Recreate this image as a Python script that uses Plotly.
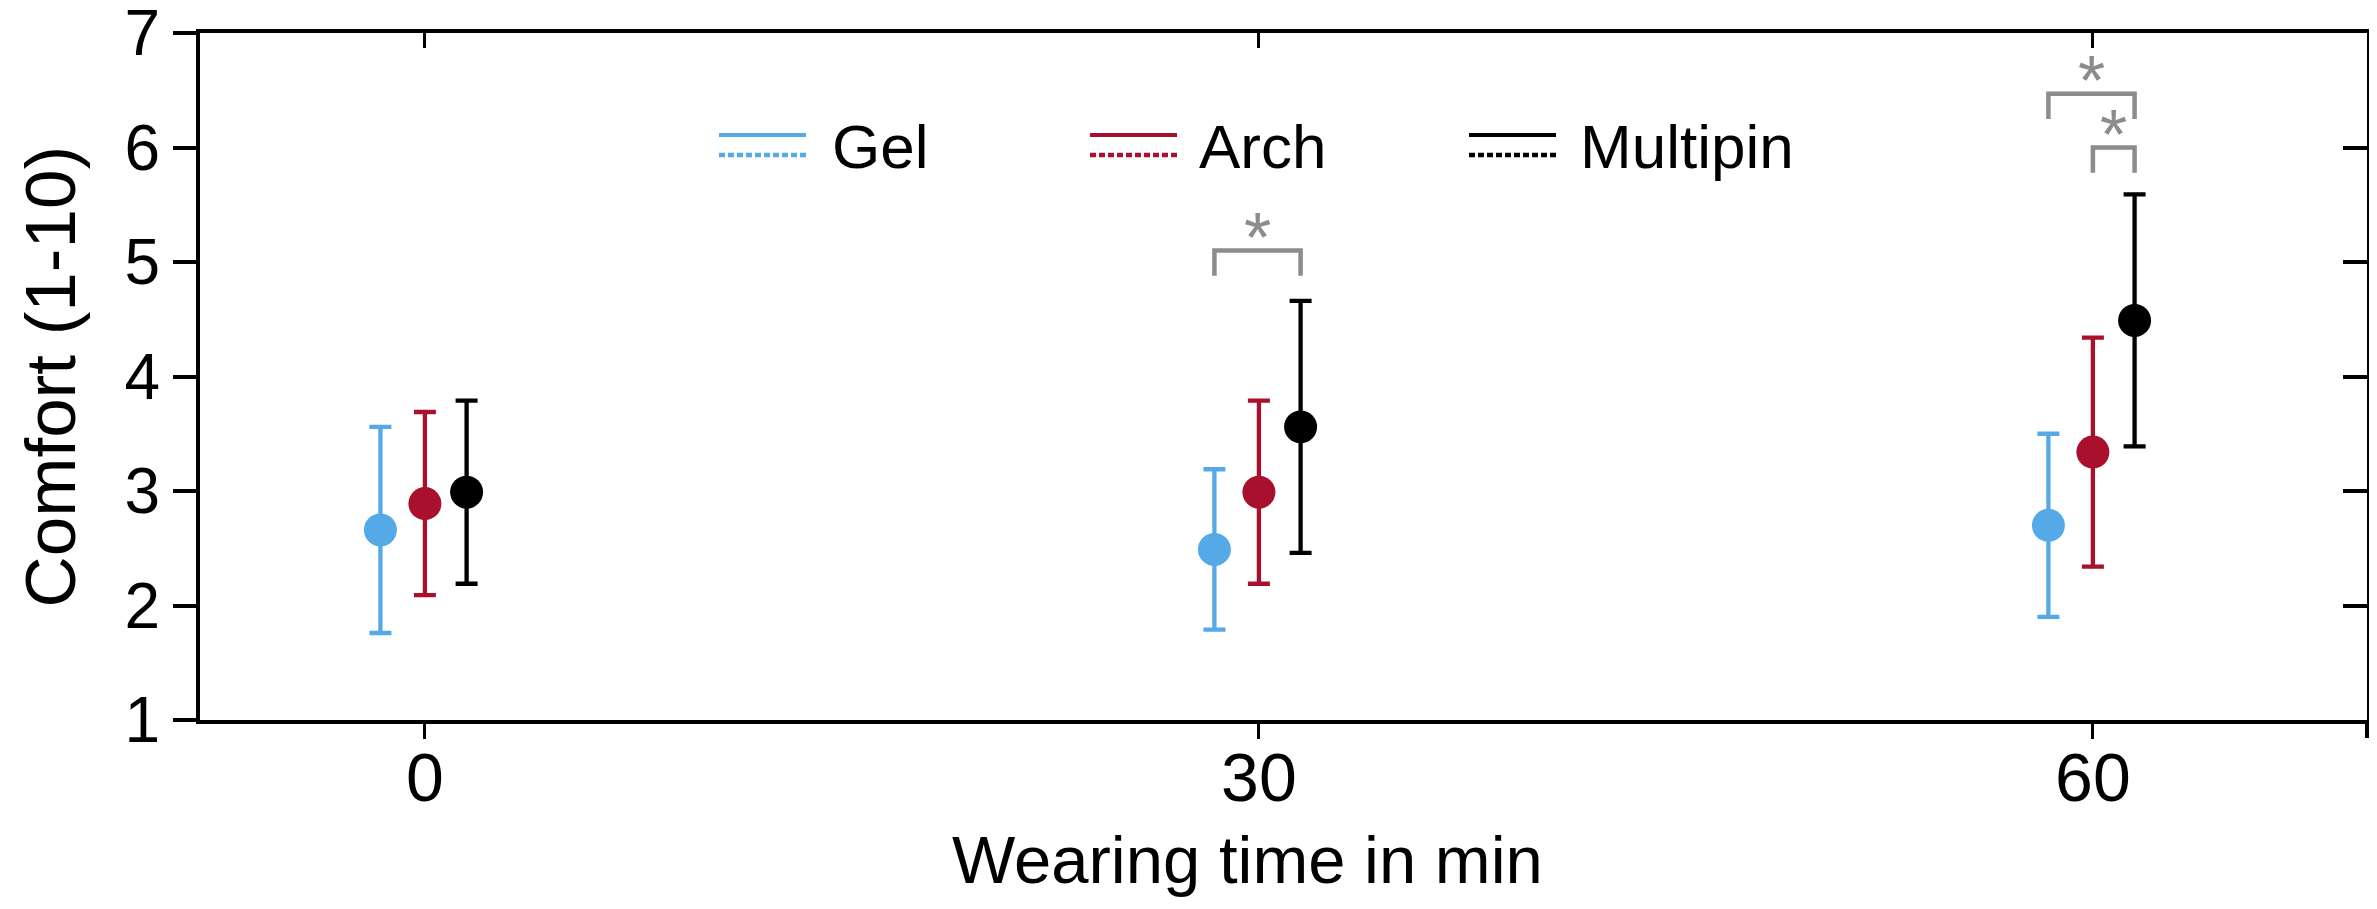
import plotly.graph_objects as go

# ---------------- data ----------------
times = [0, 30, 60]
x_tick_labels = ["0", "30", "60"]
y_ticks = [1, 2, 3, 4, 5, 6, 7]

series_names = ["Gel", "Arch", "Multipin"]
gel_mean = [2.66, 2.49, 2.70]
gel_err = [0.90, 0.70, 0.80]
arch_mean = [2.89, 2.99, 3.34]
arch_err = [0.80, 0.80, 1.00]
multipin_mean = [2.99, 3.56, 4.49]
multipin_err = [0.80, 1.10, 1.10]

# significance brackets: time, from-series, to-series, bracket height
sig_time = [30, 60, 60]
sig_from = ["Gel", "Gel", "Arch"]
sig_to = ["Multipin", "Multipin", "Multipin"]
sig_level = [5.10, 6.47, 6.00]
sig_label = ["*", "*", "*"]

# ---------------- style ----------------
colors = {"Gel": "#55A9E6", "Arch": "#A8102D", "Multipin": "#000000"}
offsets = {"Gel": -1.6, "Arch": 0.0, "Multipin": 1.5}
gray = "#8C8C8C"
FONT = "Liberation Sans, Arial, sans-serif"
OFF = 8                      # default page body margin
W, H = 2377 - OFF, 909 - OFF
PL, PR, PT, PB = 200, 2367, 33, 720   # plot area in window pixels
L = PL - OFF
T = PT - OFF
R = W - (PR - OFF)
B = H - (PB - OFF)
leg_drop = 0.22
x_range = [-8.09, 69.86]
y_range = [1, 7]

means = {"Gel": gel_mean, "Arch": arch_mean, "Multipin": multipin_mean}
errs = {"Gel": gel_err, "Arch": arch_err, "Multipin": multipin_err}

fig = go.Figure()

for name in series_names:
    xs = [t + offsets[name] for t in times]
    fig.add_trace(go.Scatter(
        x=xs, y=means[name], mode="markers", name=name,
        marker=dict(size=33, color=colors[name], line=dict(width=0)),
        error_y=dict(type="data", array=errs[name], visible=True,
                     color=colors[name], thickness=4.3, width=11),
        showlegend=False, hoverinfo="skip",
    ))

for t, a, b, lvl, lab in zip(sig_time, sig_from, sig_to, sig_level, sig_label):
    xa = t + offsets[a]
    xb = t + offsets[b]
    fig.add_trace(go.Scatter(
        x=[xa, xa, xb, xb], y=[lvl - leg_drop, lvl, lvl, lvl - leg_drop],
        mode="lines", line=dict(color=gray, width=4.5),
        showlegend=False, hoverinfo="skip",
    ))
    fig.add_annotation(x=(xa + xb) / 2, y=lvl, xref="x", yref="y", text=lab,
                       showarrow=False, yanchor="bottom", yshift=-28,
                       font=dict(family=FONT, size=70, color=gray))

# empty traces carrying the mirrored tick axes (right and top)
fig.add_trace(go.Scatter(x=[times[0]], y=[None], yaxis="y2", mode="markers",
                         showlegend=False, hoverinfo="skip"))
fig.add_trace(go.Scatter(x=[None], y=[y_ticks[0]], xaxis="x2", mode="markers",
                         showlegend=False, hoverinfo="skip"))

# ---------------- legend (drawn) ----------------
def px_x(px):
    return (px - PL) / (PR - PL)

def px_y(py):
    return (PB - py) / (PB - PT)

legend_pos = {"Gel": (719, 830), "Arch": (1090, 1197), "Multipin": (1469, 1578)}
for name in series_names:
    x0, tx = legend_pos[name]
    fig.add_shape(type="line", xref="paper", yref="paper",
                  x0=px_x(x0), x1=px_x(x0 + 87), y0=px_y(135), y1=px_y(135),
                  line=dict(color=colors[name], width=4))
    fig.add_shape(type="line", xref="paper", yref="paper",
                  x0=px_x(x0), x1=px_x(x0 + 87), y0=px_y(155), y1=px_y(155),
                  line=dict(color=colors[name], width=4.5, dash="6px,3px"))
    fig.add_annotation(x=px_x(tx), y=px_y(146), xref="paper", yref="paper",
                       text=name, showarrow=False, xanchor="left", yanchor="middle",
                       font=dict(family=FONT, size=62, color="black"))

# right axis line extends slightly below the bottom axis
fig.add_shape(type="line", xref="paper", yref="paper", x0=1, x1=1,
              y0=0, y1=px_y(738), line=dict(color="black", width=4))

# axis titles
fig.add_annotation(x=px_x(1247), y=px_y(860), xref="paper", yref="paper",
                   text="Wearing time in min", showarrow=False,
                   xanchor="center", yanchor="middle",
                   font=dict(family=FONT, size=67, color="black"))
fig.add_annotation(x=px_x(50), y=0.5, xref="paper", yref="paper",
                   text="Comfort (1-10)", showarrow=False, textangle=-90,
                   xanchor="center", yanchor="middle",
                   font=dict(family=FONT, size=71, color="black"))

fig.update_layout(
    width=W, height=H,
    margin=dict(l=L, r=R, t=T, b=B, autoexpand=False),
    paper_bgcolor="white", plot_bgcolor="white",
    font=dict(family=FONT, color="black"),
    showlegend=False,
    xaxis=dict(range=x_range, tickvals=times, ticktext=x_tick_labels,
               ticks="outside", ticklen=15, tickwidth=3, tickcolor="black",
               showline=True, linewidth=4, linecolor="black", mirror=True,
               showgrid=False, zeroline=False, ticklabeloverflow="allow",
               automargin=False, ticklabelstandoff=-20,
               tickfont=dict(family=FONT, size=68, color="black")),
    yaxis=dict(range=y_range, tickvals=y_ticks,
               ticks="outside", ticklen=23, tickwidth=3.5, tickcolor="black",
               showline=True, linewidth=4, linecolor="black", mirror=True,
               showgrid=False, zeroline=False, ticklabeloverflow="allow",
               automargin=False,
               tickfont=dict(family=FONT, size=64, color="black")),
    yaxis2=dict(range=y_range, tickvals=y_ticks[1:-1], overlaying="y", side="right",
                anchor="x", ticks="inside", ticklen=24, tickwidth=3.5,
                tickcolor="black", showticklabels=False, showline=False,
                showgrid=False, zeroline=False, automargin=False),
    xaxis2=dict(range=x_range, tickvals=times, overlaying="x", side="top",
                anchor="y", ticks="inside", ticklen=15, tickwidth=3,
                tickcolor="black", showticklabels=False, showline=False,
                showgrid=False, zeroline=False, automargin=False),
)

fig.write_html("out.html")
